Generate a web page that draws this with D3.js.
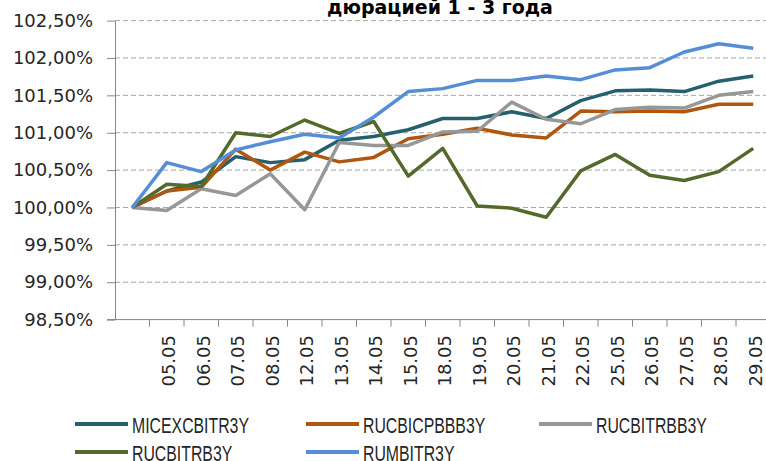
<!DOCTYPE html>
<html>
<head>
<meta charset="utf-8">
<script src="https://cdn.jsdelivr.net/npm/d3@7"></script>
<style>
  body { margin: 0; background: #fff; }
  svg { display: block; }
</style>
</head>
<body>
<svg width="766" height="461"></svg>
<script>
"use strict";

// first category has no label on the original axis
const dates = ["", "05.05", "06.05", "07.05", "08.05", "12.05", "13.05", "14.05", "15.05",
    "18.05", "19.05", "20.05", "21.05", "22.05", "25.05", "26.05", "27.05", "28.05", "29.05"];

const micex  = [100.00, 100.22, 100.34, 100.68, 100.60, 100.64, 100.90, 100.95, 101.04,
    101.19, 101.19, 101.28, 101.19, 101.43, 101.56, 101.57, 101.55, 101.69, 101.76];
const rucbicpbbb = [100.00, 100.22, 100.27, 100.78, 100.50, 100.74, 100.61, 100.67, 100.92,
    100.98, 101.06, 100.97, 100.93, 101.29, 101.28, 101.29, 101.28, 101.38, 101.38];
const rucbitrbb = [100.00, 99.96, 100.25, 100.16, 100.45, 99.97, 100.87, 100.83, 100.83,
    101.01, 101.02, 101.41, 101.18, 101.12, 101.31, 101.34, 101.33, 101.50, 101.55];
const rucbitrb = [100.00, 100.31, 100.28, 101.00, 100.95, 101.17, 100.99, 101.15, 100.42,
    100.79, 100.02, 99.99, 99.87, 100.49, 100.71, 100.43, 100.36, 100.48, 100.79];
const rumbitr = [100.00, 100.60, 100.48, 100.77, 100.88, 100.98, 100.93, 101.21, 101.55,
    101.59, 101.70, 101.70, 101.76, 101.71, 101.84, 101.87, 102.08, 102.19, 102.13];

const seriesNames = ["MICEXCBITR3Y", "RUCBICPBBB3Y", "RUCBITRBB3Y", "RUCBITRB3Y", "RUMBITR3Y"];
const seriesValues = [micex, rucbicpbbb, rucbitrbb, rucbitrb, rumbitr];
const seriesColors = ["#24606e", "#b0560f", "#979797", "#536a2c", "#558ed5"];

const yTicks = [98.5, 99, 99.5, 100, 100.5, 101, 101.5, 102, 102.5];

const svg = d3.select("svg");

const plotLeft = 115, plotTop = 20.6, plotBottom = 319.6;
const band = 34.5;

const x = d3.scaleBand()
    .domain(dates)
    .range([plotLeft, plotLeft + band * dates.length]);

const y = d3.scaleLinear()
    .domain([98.5, 102.5])
    .range([plotBottom, plotTop]);

// dashed grid
svg.append("g")
    .selectAll("line")
    .data(yTicks.slice(1))
    .join("line")
        .attr("x1", plotLeft)
        .attr("x2", 766)
        .attr("y1", d => y(d))
        .attr("y2", d => y(d))
        .attr("stroke", "#a6a6a6")
        .attr("stroke-width", 1)
        .attr("stroke-dasharray", "5,3");

// y axis
const fmt = d => d.toFixed(2).replace(".", ",") + "%";
const yAxis = svg.append("g")
    .attr("transform", `translate(${plotLeft},0)`)
    .call(d3.axisLeft(y).tickValues(yTicks).tickFormat(fmt).tickSizeInner(8).tickSizeOuter(0).tickPadding(14));
yAxis.select(".domain").attr("stroke", "#868686");
yAxis.selectAll(".tick line").attr("stroke", "#868686");
yAxis.selectAll("text")
    .attr("font-family", "'DejaVu Sans', Verdana, sans-serif")
    .attr("font-size", 18)
    .attr("fill", "#262626");

// x axis line, ticks at category boundaries
svg.append("line")
    .attr("x1", plotLeft - 8)
    .attr("x2", 766)
    .attr("y1", plotBottom)
    .attr("y2", plotBottom)
    .attr("stroke", "#868686");

svg.append("g")
    .selectAll("line")
    .data(dates)
    .join("line")
        .attr("x1", d => x(d) + x.bandwidth())
        .attr("x2", d => x(d) + x.bandwidth())
        .attr("y1", plotBottom)
        .attr("y2", plotBottom + 7)
        .attr("stroke", "#868686");

svg.append("g")
    .selectAll("text")
    .data(dates)
    .join("text")
        .attr("transform", d => `translate(${x(d) + x.bandwidth() / 2 + 2},335) rotate(-90)`)
        .attr("text-anchor", "end")
        .attr("dy", "0.35em")
        .attr("font-family", "'DejaVu Sans', Verdana, sans-serif")
        .attr("font-size", 18)
        .attr("fill", "#262626")
        .text(d => d);

// series
const line = d3.line()
    .x((d, i) => x(dates[i]) + x.bandwidth() / 2)
    .y(d => y(d));

svg.append("g")
    .selectAll("path")
    .data(seriesValues)
    .join("path")
        .attr("d", line)
        .attr("fill", "none")
        .attr("stroke", (d, i) => seriesColors[i])
        .attr("stroke-width", 3.5)
        .attr("stroke-linejoin", "round");

// title (upper line lies outside the picture)
svg.append("text")
    .attr("x", 440)
    .attr("y", 14)
    .attr("text-anchor", "middle")
    .attr("font-family", "'DejaVu Sans', Verdana, sans-serif")
    .attr("font-weight", "bold")
    .attr("font-size", 19)
    .attr("fill", "#000")
    .text("дюрацией 1 - 3 года");

// legend
const legendPos = [[75, 424], [306, 424], [539, 424], [75, 452], [306, 452]];
const legend = svg.append("g")
    .selectAll("g")
    .data(seriesNames)
    .join("g")
        .attr("transform", (d, i) => `translate(${legendPos[i][0]},${legendPos[i][1]})`);

legend.append("line")
    .attr("x1", 0)
    .attr("x2", 53)
    .attr("stroke", (d, i) => seriesColors[i])
    .attr("stroke-width", 4);

legend.append("text")
    .attr("transform", "translate(57,9) scale(0.72,1)")
    .attr("font-family", "'Liberation Sans', Arial, sans-serif")
    .attr("font-size", 22)
    .attr("fill", "#262626")
    .text(d => d);
</script>
</body>
</html>
